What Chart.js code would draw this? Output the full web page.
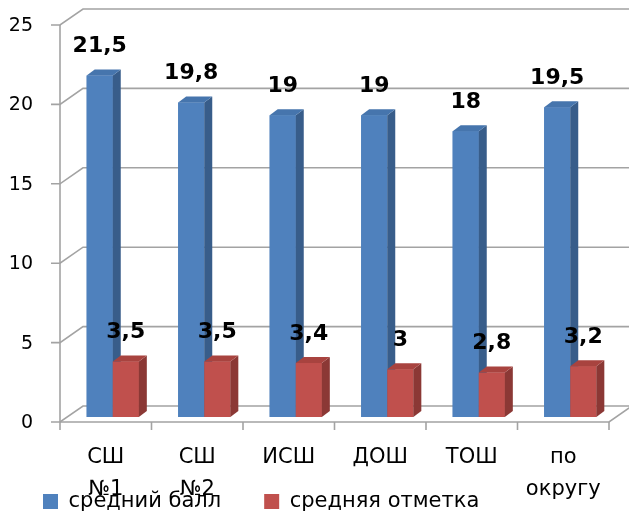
<!DOCTYPE html>
<html>
<head>
<meta charset="utf-8">
<script src="https://cdn.jsdelivr.net/npm/chart.js@4"></script>
<style>
html,body{margin:0;padding:0;background:#fff;}
#wrap{width:629px;height:515px;}
</style>
</head>
<body>
<div id="wrap"><canvas id="c" width="629" height="515"></canvas></div>
<script>
const categories = [['СШ','№1'], ['СШ','№2'], 'ИСШ', 'ДОШ', 'ТОШ', ['по','округу']];
const avgScore = [21.5, 19.8, 19, 19, 18, 19.5];
const avgMark = [3.5, 3.5, 3.4, 3, 2.8, 3.2];
const seriesNames = ['средний балл', 'средняя отметка'];
const yTicks = [0, 5, 10, 15, 20, 25];

const frontColors = ['#4f81bd', '#c0504d'];
const sideColors = ['#385d8a', '#8b3835'];
const topColors = ['#4675ad', '#a8433f'];

const GRID = '#a3a3a3';
const WALL_DX = 23, WALL_DY = -16;   // depth of the 3D box
const BAR_DX = 8, BAR_DY = -6;       // depth of each bar
const FRONT_X = -7, FRONT_Y = 5;     // front plane offset from bar plane

function fmt(v){ return String(v).replace('.', ','); }

const threeD = {
  id: 'threeD',
  beforeDraw(chart){
    // let the category labels run below the reserved axis band (they overlap the legend, as in the original)
    chart.scales.x.bottom = chart.height;
  },
  beforeDatasetsDraw(chart){
    const ctx = chart.ctx, ys = chart.scales.y, xs = chart.scales.x, ca = chart.chartArea;
    const fx = ca.left + FRONT_X;
    const step = xs.getPixelForValue(1) - xs.getPixelForValue(0);
    const fRight = xs.getPixelForValue(categories.length - 1) + step/2 + FRONT_X;
    ctx.save();
    ctx.strokeStyle = GRID;
    ctx.lineWidth = 1.6;
    yTicks.forEach(v => {
      const y = ys.getPixelForValue(v) + FRONT_Y;
      ctx.beginPath();
      ctx.moveTo(fx - 9, y);
      ctx.lineTo(fx, y);
      ctx.lineTo(fx + WALL_DX, y + WALL_DY);
      ctx.lineTo(chart.width + 5, y + WALL_DY);
      ctx.stroke();
    });
    const y0 = ys.getPixelForValue(0) + FRONT_Y;
    const yTop = ys.getPixelForValue(yTicks[yTicks.length-1]) + FRONT_Y;
    ctx.beginPath();
    ctx.moveTo(fx, yTop);
    ctx.lineTo(fx, y0);
    ctx.stroke();
    ctx.beginPath();
    ctx.moveTo(fx, y0);
    ctx.lineTo(fRight, y0);
    ctx.lineTo(fRight + WALL_DX, y0 + WALL_DY);
    ctx.stroke();
    for (let i = 0; i <= categories.length; i++) {
      const x = xs.getPixelForValue(0) - step/2 + i*step + FRONT_X;
      ctx.beginPath();
      ctx.moveTo(x, y0);
      ctx.lineTo(x, y0 + 8);
      ctx.stroke();
    }
    ctx.restore();
  },
  afterDatasetsDraw(chart){
    const ctx = chart.ctx;
    ctx.save();
    chart.data.datasets.forEach((ds, di) => {
      const meta = chart.getDatasetMeta(di);
      meta.data.forEach(bar => {
        const {x, y, base, width} = bar.getProps(['x','y','base','width'], true);
        const l = x - width/2, r = x + width/2;
        ctx.fillStyle = frontColors[di];
        ctx.fillRect(l, y, width, base - y);
        ctx.fillStyle = sideColors[di];
        ctx.beginPath();
        ctx.moveTo(r, y); ctx.lineTo(r + BAR_DX, y + BAR_DY);
        ctx.lineTo(r + BAR_DX, base + BAR_DY); ctx.lineTo(r, base);
        ctx.closePath(); ctx.fill();
        ctx.fillStyle = topColors[di];
        ctx.beginPath();
        ctx.moveTo(l, y); ctx.lineTo(l + BAR_DX, y + BAR_DY);
        ctx.lineTo(r + BAR_DX, y + BAR_DY); ctx.lineTo(r, y);
        ctx.closePath(); ctx.fill();
      });
    });
    ctx.fillStyle = '#000';
    ctx.font = 'bold 22px "DejaVu Sans"';
    ctx.textAlign = 'center';
    ctx.textBaseline = 'middle';
    chart.data.datasets.forEach((ds, di) => {
      const meta = chart.getDatasetMeta(di);
      meta.data.forEach((bar, i) => {
        ctx.fillText(fmt(ds.data[i]), bar.x, bar.y - 29);
      });
    });
    ctx.restore();
  }
};

new Chart(document.getElementById('c'), {
  type: 'bar',
  data: {
    labels: categories,
    datasets: [
      {label: seriesNames[0], data: avgScore, backgroundColor: frontColors[0], borderWidth: 0},
      {label: seriesNames[1], data: avgMark, backgroundColor: frontColors[1], borderWidth: 0}
    ]
  },
  options: {
    responsive: false,
    animation: false,
    devicePixelRatio: 1,
    layout: {padding: {top: 20, right: 13, left: 0, bottom: -7}},
    datasets: {bar: {categoryPercentage: 0.57, barPercentage: 1}},
    plugins: {
      tooltip: {enabled: false},
      legend: {
        position: 'bottom',
        align: 'start',
        labels: {
          boxWidth: 15, boxHeight: 15, padding: 43,
          color: '#000',
          font: {family: '"DejaVu Sans"', size: 21}
        }
      }
    },
    scales: {
      x: {
        grid: {display: false, drawTicks: true, tickLength: 25},
        border: {display: false},
        afterFit(s){ s.height = 31; },
        ticks: {
          color: '#000', padding: 0, labelOffset: -7, maxRotation: 0, autoSkip: false,
          font: {family: '"DejaVu Sans"', size: 21, lineHeight: 1.52}
        }
      },
      y: {
        min: 0, max: 25,
        afterFit(s){ s.width = 67; },
        afterBuildTicks(s){ s.ticks = yTicks.map(v => ({value: v})); },
        grid: {display: false, drawTicks: true, tickLength: 30},
        border: {display: false},
        ticks: {
          color: '#000', padding: 4, labelOffset: 6,
          font: {family: '"DejaVu Sans"', size: 19}
        }
      }
    }
  },
  plugins: [threeD]
});
</script>
</body>
</html>
